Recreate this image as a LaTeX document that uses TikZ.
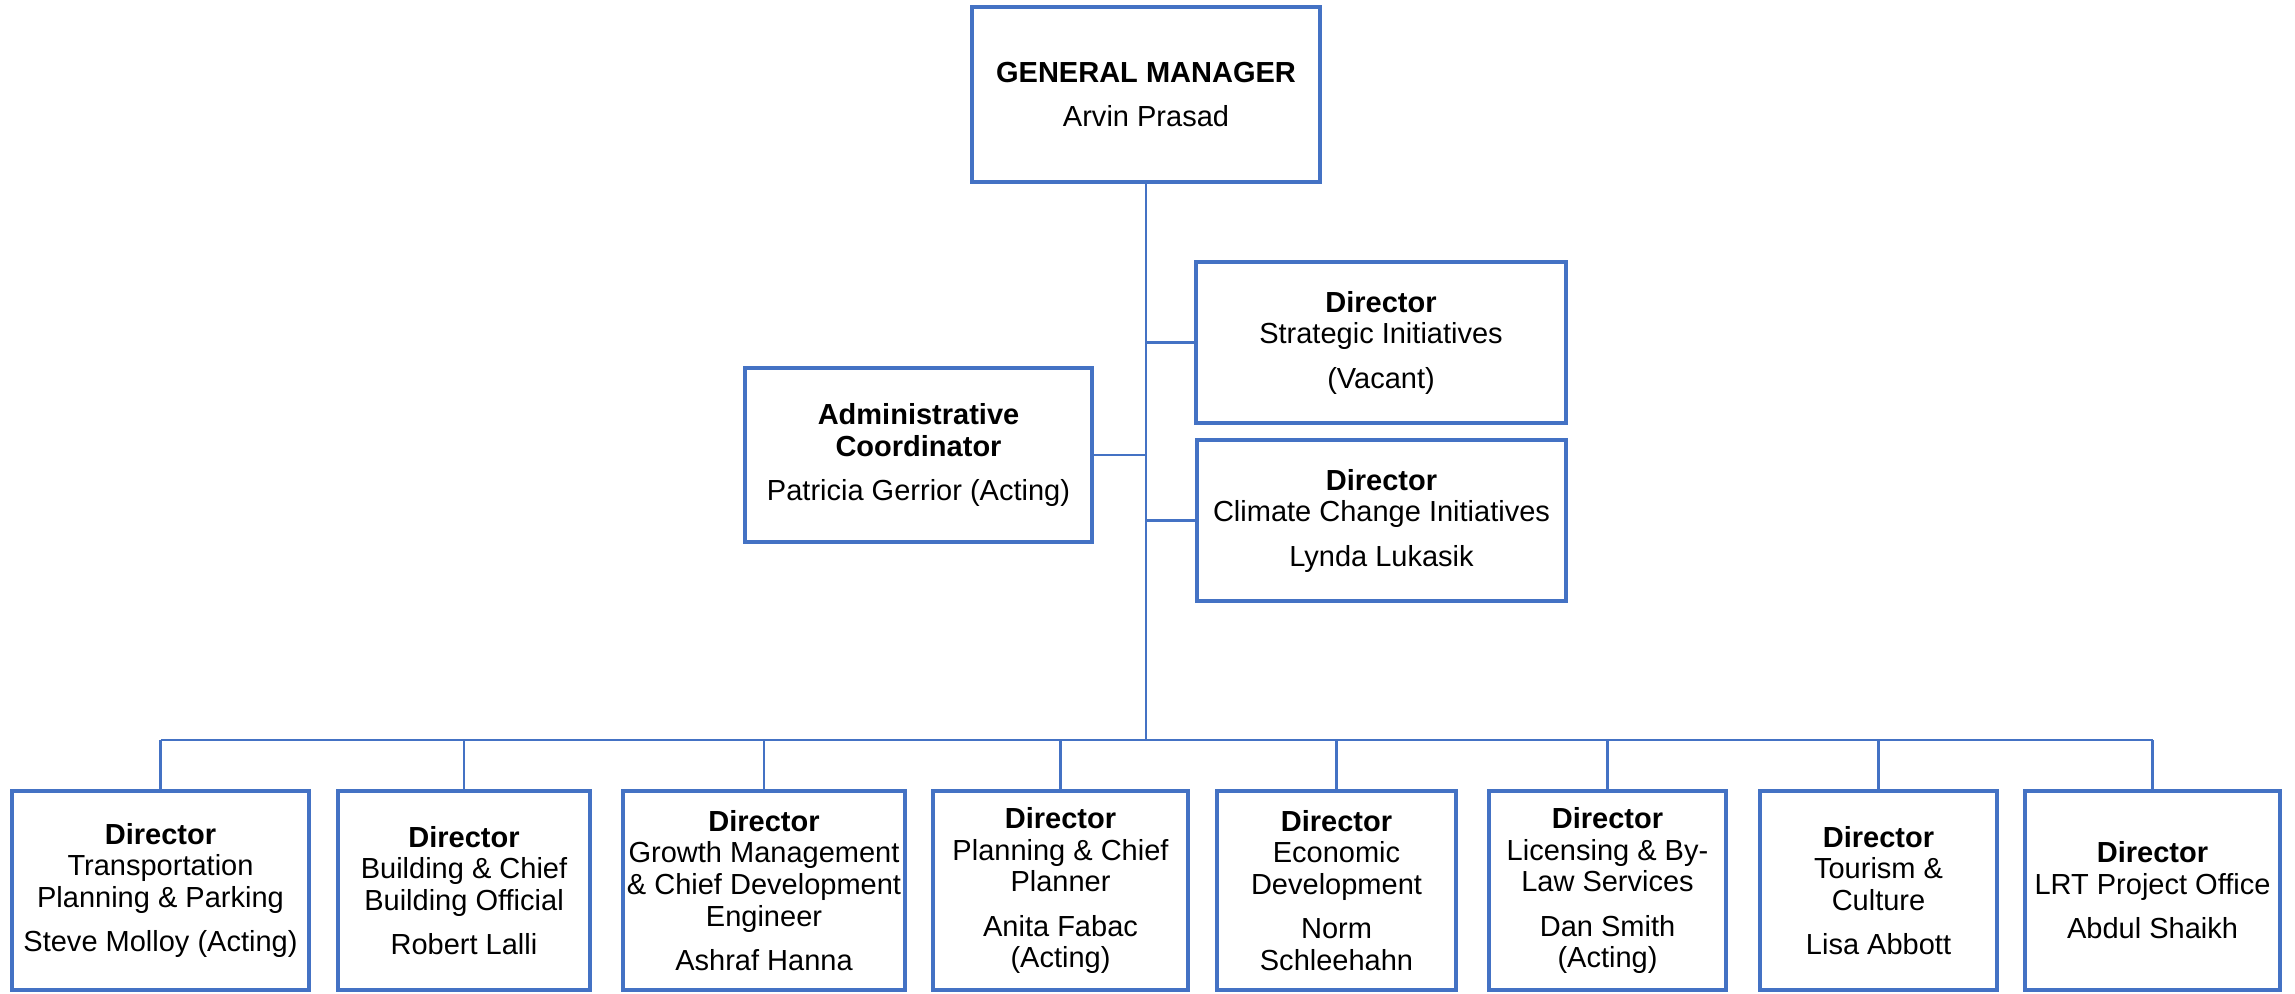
\documentclass[tikz,border=0pt]{standalone}
\usepackage{fontspec}
\setmainfont{Liberation Sans}
\definecolor{orgblue}{HTML}{4472C4}
\begin{document}
\begin{tikzpicture}[x=0.01cm,y=-0.01cm,
        box/.style={draw=orgblue,line width=1.15pt,inner sep=0pt,align=center,font=\fontsize{8.25}{9}\selectfont},
        link/.style={draw=orgblue,line width=0.75pt}]
        \useasboundingbox (0,0) rectangle (2295,993);
        \node[box,minimum width=3.48cm,minimum height=1.75cm] (gm) at (1146,94.5) {\textbf{GENERAL MANAGER}\\[3.6pt] Arvin Prasad};
        \node[box,minimum width=3.70cm,minimum height=1.61cm] (strat) at (1381,342.5) {\textbf{Director}\\ Strategic Initiatives\\[3.6pt] (Vacant)};
        \node[box,minimum width=3.69cm,minimum height=1.61cm] (climate) at (1381.5,520.5) {\textbf{Director}\\ Climate Change Initiatives\\[3.6pt] Lynda Lukasik};
        \node[box,minimum width=3.47cm,minimum height=1.74cm] (admin) at (918.5,455) {\textbf{Administrative}\\ \textbf{Coordinator}\\[3.6pt] Patricia Gerrior (Acting)};
        \node[box,minimum width=2.97cm,minimum height=1.99cm] (transport) at (160.5,890.5) {\textbf{Director}\\ Transportation\\ Planning \& Parking\\[3.6pt] Steve Molloy (Acting)};
        \node[box,minimum width=2.52cm,minimum height=1.99cm] (building) at (464,890.5) {\textbf{Director}\\ Building \& Chief\\ Building Official\\[3.6pt] Robert Lalli};
        \node[box,minimum width=2.82cm,minimum height=1.99cm] (growth) at (764,890.5) {\textbf{Director}\\ Growth Management\\ \& Chief Development\\ Engineer\\[3.6pt] Ashraf Hanna};
        \node[box,minimum width=2.55cm,minimum height=1.99cm] (planning) at (1060.5,890.5) {\textbf{Director}\\ Planning \& Chief\\ Planner\\[3.6pt] Anita Fabac\\ (Acting)};
        \node[box,minimum width=2.39cm,minimum height=1.99cm] (economic) at (1336.5,890.5) {\textbf{Director}\\ Economic\\ Development\\[3.6pt] Norm\\ Schleehahn};
        \node[box,minimum width=2.37cm,minimum height=1.99cm] (licensing) at (1607.5,890.5) {\textbf{Director}\\ Licensing \& By-\\ Law Services\\[3.6pt] Dan Smith\\ (Acting)};
        \node[box,minimum width=2.37cm,minimum height=1.99cm] (tourism) at (1878.5,890.5) {\textbf{Director}\\ Tourism \&\\ Culture\\[3.6pt] Lisa Abbott};
        \node[box,minimum width=2.55cm,minimum height=1.99cm] (lrt) at (2152.5,890.5) {\textbf{Director}\\ LRT Project Office\\[3.6pt] Abdul Shaikh};
        \coordinate (bus) at (gm.south |- 0,740);
        \draw[link] (gm.south) -- (bus);
        \draw[link] (strat.west) -- (strat.west -| gm.south);
        \draw[link] (climate.west) -- (climate.west -| gm.south);
        \draw[link] (admin.east) -- (admin.east -| gm.south);
        \draw[link] (transport.north |- bus) -- (lrt.north |- bus);
        \draw[link] (transport.north) -- (transport.north |- bus);
        \draw[link] (building.north) -- (building.north |- bus);
        \draw[link] (growth.north) -- (growth.north |- bus);
        \draw[link] (planning.north) -- (planning.north |- bus);
        \draw[link] (economic.north) -- (economic.north |- bus);
        \draw[link] (licensing.north) -- (licensing.north |- bus);
        \draw[link] (tourism.north) -- (tourism.north |- bus);
        \draw[link] (lrt.north) -- (lrt.north |- bus);
    \end{tikzpicture}
\end{document}
